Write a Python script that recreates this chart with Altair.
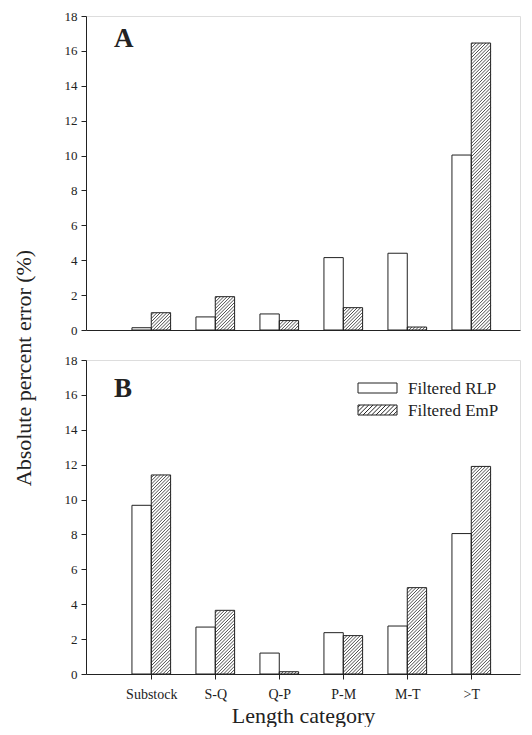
import json
import altair as alt
import pandas as pd

# ---------------- data ----------------
categories = ["Substock", "S-Q", "Q-P", "P-M", "M-T", ">T"]
series = ["Filtered RLP", "Filtered EmP"]

panel_a_rlp = [0.13, 0.75, 0.92, 4.15, 4.40, 10.03]
panel_a_emp = [0.99, 1.91, 0.54, 1.28, 0.17, 16.45]
panel_b_rlp = [9.67, 2.69, 1.20, 2.37, 2.75, 8.05]
panel_b_emp = [11.41, 3.65, 0.13, 2.20, 4.95, 11.90]

y_ticks = [0, 2, 4, 6, 8, 10, 12, 14, 16, 18]

# ---------------- layout / style ----------------
PLOT_W = 434
PLOT_H = 314
X_DOMAIN = [-1.02, -1.02 + 434 / 64.0]
Y_MAX = 18
BAR_FRAC = 0.302          # width of one bar in category units
HATCH_STEP = 3.3          # horizontal spacing of hatch lines, px
FONT = "Liberation Serif"
INK = "#222222"

PX_PER_X = PLOT_W / (X_DOMAIN[1] - X_DOMAIN[0])
PX_PER_Y = PLOT_H / Y_MAX


def bars_frame(rlp, emp):
    rows = []
    for i, cat in enumerate(categories):
        rows.append(dict(cat=cat, series=series[0], value=rlp[i], x0=i - BAR_FRAC, x1=i))
        rows.append(dict(cat=cat, series=series[1], value=emp[i], x0=i, x1=i + BAR_FRAC))
    return pd.DataFrame(rows)


def hatch_frame(emp):
    """Diagonal '/' hatch segments clipped to each EmP bar (data units)."""
    rows = []
    w = BAR_FRAC * PX_PER_X
    for i, v in enumerate(emp):
        h = v * PX_PER_Y
        c = -w + 1.2
        while c < h:
            u0 = max(0.0, -c)
            u1 = min(w, h - c)
            if u1 > u0:
                rows.append(dict(hx=i + u0 / PX_PER_X, hy=(u0 + c) / PX_PER_Y,
                                 hx2=i + u1 / PX_PER_X, hy2=(u1 + c) / PX_PER_Y))
            c += HATCH_STEP
    return pd.DataFrame(rows)


def box_path(w, h, hatch):
    """Custom symbol path (unit: sqrt(size)/2) of a legend box, optionally hatched."""
    s = w / 2.0
    hw, hh = 1.0, (h / 2.0) / s
    p = f"M{-hw},{-hh}L{hw},{-hh}L{hw},{hh}L{-hw},{hh}Z"
    if hatch:
        step = 4.3 / s
        c = -2 * hh + step / 2
        while c < 2 * hw:
            x_start = -hw + c
            y_start = hh
            x_end = x_start + 2 * hh
            y_end = -hh
            if x_start < -hw:
                d = -hw - x_start
                x_start, y_start = -hw, hh - d
            if x_end > hw:
                d = x_end - hw
                x_end, y_end = hw, -hh + d
            if x_end > x_start:
                p += f"M{x_start:.3f},{y_start:.3f}L{x_end:.3f},{y_end:.3f}"
            c += step
    return p


x_scale = alt.Scale(domain=X_DOMAIN, nice=False, zero=False)
y_scale = alt.Scale(domain=[0, Y_MAX], nice=False, zero=True)

y_axis = alt.Axis(values=y_ticks, tickSize=5, tickColor=INK, domainColor=INK,
                  labelFont=FONT, labelFontSize=13, labelColor=INK, labelPadding=4,
                  labelOverlap=False, grid=False, title=None)

label_expr = json.dumps(categories) + "[datum.value]"
x_axis_bottom = alt.Axis(values=list(range(len(categories))), labelExpr=label_expr,
                         tickSize=5, tickColor=INK, domainColor=INK,
                         labelFont=FONT, labelFontSize=14, labelColor=INK, labelPadding=8,
                         labelFlush=False, grid=False,
                         title="Length category", titleFont=FONT, titleFontSize=22,
                         titleFontWeight="normal", titleColor=INK, titlePadding=4)
x_axis_top = alt.Axis(ticks=False, labels=False, domainColor=INK, grid=False, title=None)


def panel(rlp, emp, letter, letter_y, bottom):
    x_axis = x_axis_bottom if bottom else x_axis_top
    title = "Length category" if bottom else None
    bars = bars_frame(rlp, emp)
    hatch = hatch_frame(emp)

    hatch_layer = alt.Chart(hatch).mark_rule(color=INK, strokeWidth=0.8).encode(
        x=alt.X("hx:Q", scale=x_scale, axis=x_axis, title=title),
        x2="hx2:Q",
        y=alt.Y("hy:Q", scale=y_scale, axis=y_axis),
        y2="hy2:Q",
    )
    bar_layer = alt.Chart(bars).mark_rect(fill="white", fillOpacity=0, stroke=INK,
                                          strokeWidth=1).encode(
        x=alt.X("x0:Q", scale=x_scale, axis=x_axis, title=title),
        x2="x1:Q",
        y=alt.Y("value:Q", scale=y_scale, axis=y_axis),
        y2=alt.Y2(datum=0),
    )
    letter_layer = alt.Chart(pd.DataFrame({"t": [letter]})).mark_text(
        font=FONT, fontSize=27, fontWeight="bold", align="left", baseline="alphabetic",
        color=INK
    ).encode(x=alt.value(28), y=alt.value(letter_y), text="t:N")

    layers = [hatch_layer, bar_layer, letter_layer]

    if bottom:
        lg = pd.DataFrame({"s": series})
        box_w, box_h = 39, 10
        lx = 272 + box_w / 2
        for k, (name, hatched) in enumerate(zip(series, [False, True])):
            cy = 28 + 22 * k
            layers.append(
                alt.Chart(lg.iloc[[k]]).mark_point(
                    shape=box_path(box_w, box_h, hatched), size=box_w ** 2,
                    filled=False, stroke=INK, strokeWidth=1, opacity=1
                ).encode(x=alt.value(lx), y=alt.value(cy))
            )
            layers.append(
                alt.Chart(lg.iloc[[k]]).mark_text(
                    font=FONT, fontSize=17, align="left", baseline="middle", color=INK
                ).encode(x=alt.value(322), y=alt.value(cy + 1), text="s:N")
            )

    return alt.layer(*layers).properties(width=PLOT_W, height=PLOT_H)


top = panel(panel_a_rlp, panel_a_emp, "A", 31, False)
bot = panel(panel_b_rlp, panel_b_emp, "B", 37, True)

chart = alt.vconcat(top, bot, spacing=15).properties(
    title=alt.TitleParams("Absolute percent error (%)", orient="left", anchor="middle",
                          font=FONT, fontSize=22, fontWeight="normal", color=INK,
                          offset=28),
    padding={"left": 4, "top": 1, "right": 0, "bottom": 0},
).configure_view(strokeWidth=0).configure(font=FONT)

chart.save("out.html", embed_options={"renderer": "svg", "actions": False})
